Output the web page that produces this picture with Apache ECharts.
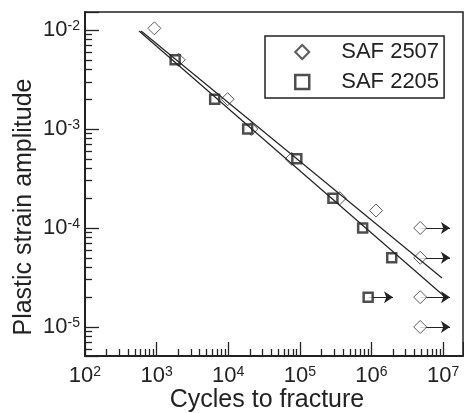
<!DOCTYPE html>
<html>
<head>
<meta charset="utf-8">
<script src="https://cdn.jsdelivr.net/npm/echarts@6/dist/echarts.min.js"></script>
<style>
html, body { margin: 0; padding: 0; background: #fff; }
#main { width: 464px; height: 413px; }
</style>
</head>
<body>
<div id="main"></div>
<script>
// SAF 2507 (diamonds): cycles to fracture / plastic strain amplitude
var n2507 = [930, 2030, 9800, 21000, 77000, 362000, 1160000];
var e2507 = [0.0104, 0.005, 0.002, 0.001, 0.0005, 0.0002, 0.00015];
// SAF 2507 run-outs (no fracture), arrow tips
var n2507Run = [4800000, 4800000, 4800000, 4800000];
var e2507Run = [0.0001, 0.00005, 0.00002, 0.00001];
var n2507Tip = [12500000, 12500000, 12500000, 12500000];

// SAF 2205 (squares)
var n2205 = [1815, 6470, 18700, 90800, 290000, 754000, 1920000];
var e2205 = [0.005, 0.002, 0.001, 0.0005, 0.0002, 0.0001, 0.00005];
var n2205Run = [900000];
var e2205Run = [0.00002];
var n2205Tip = [2000000];

// fitted lines (end points)
var fit2507N = [607, 9680000];
var fit2507E = [0.00977, 0.0000313];
var fit2205N = [569, 10700000];
var fit2205E = [0.00977, 0.0000201];

// axis ranges
var xRange = [100, 19000000];
var yRange = [0.00000509, 0.0152];

function pts(ns, es) {
    return ns.map(function (n, i) { return [n, es[i]]; });
}
function arrows(ns, es, tips) {
    return ns.map(function (n, i) {
        return { coords: [[n, es[i]], [tips[i], es[i]]] };
    });
}

var ink = '#222';
var font = 'Liberation Sans';
var powRich = {
    b: { fontSize: 22, fontFamily: font, color: ink, lineHeight: 22 },
    s: { fontSize: 14, fontFamily: font, color: ink, lineHeight: 14, verticalAlign: 'top' }
};
function powLabel(v) {
    return '{b|10}{s|' + Math.round(Math.log10(v)) + '}';
}

function logAxis(range, extra) {
    var a = {
        type: 'log',
        logBase: 10,
        min: range[0],
        max: range[1],
        splitLine: { show: false },
        axisLine: { show: true, lineStyle: { color: ink, width: 2 } },
        axisTick: { show: true, inside: true, length: 14, lineStyle: { color: ink, width: 1.3 } },
        minorTick: { show: true, splitNumber: 9, length: 7, lineStyle: { color: ink, width: 1.3 } },
        nameMoveOverlap: false
    };
    for (var k in extra) a[k] = extra[k];
    return a;
}

var option = {
    animation: false,
    backgroundColor: '#fff',
    textStyle: { fontFamily: font, color: ink },
    grid: {
        left: 85, right: 1, top: 12, bottom: 57,
        outerBoundsMode: 'none', containLabel: false,
        show: true, borderColor: ink, borderWidth: 1.5
    },
    legend: {
        orient: 'vertical',
        left: 265,
        top: 36,
        padding: [5, 5, 5, 29],
        itemGap: 8,
        itemWidth: 14,
        itemHeight: 14,
        borderColor: ink,
        borderWidth: 1.5,
        textStyle: { fontSize: 22, fontFamily: font, color: ink, lineHeight: 22, padding: [0, 0, 0, 27] },
        data: [
            { name: 'SAF 2507' },
            { name: 'SAF 2205', itemStyle: { borderWidth: 2.5 } }
        ]
    },
    xAxis: logAxis(xRange, {
        position: 'bottom',
        axisLabel: { show: true, margin: 9, showMinLabel: true, showMaxLabel: false, formatter: powLabel, rich: powRich },
        name: 'Cycles to fracture',
        nameLocation: 'middle',
        nameGap: 32,
        nameTextStyle: { fontSize: 25, fontFamily: font, color: ink, padding: [0, 14, 0, 0] }
    }),
    yAxis: logAxis(yRange, {
        position: 'left',
        axisLabel: { show: true, margin: 5, showMinLabel: false, showMaxLabel: false, formatter: powLabel, rich: powRich },
        name: 'Plastic strain amplitude',
        nameLocation: 'middle',
        nameGap: 48,
        nameTextStyle: { fontSize: 25, fontFamily: font, color: ink, padding: [0, 46, 0, 0] }
    }),
    series: [
        {
            name: 'run-out',
            type: 'lines',
            coordinateSystem: 'cartesian2d',
            symbol: ['none', 'arrow'],
            symbolSize: [0, 9],
            lineStyle: { color: ink, width: 1.2, opacity: 1 },
            z: 1,
            data: arrows(n2507Run, e2507Run, n2507Tip).concat(arrows(n2205Run, e2205Run, n2205Tip))
        },
        {
            name: 'SAF 2507',
            type: 'scatter',
            symbol: 'diamond',
            symbolSize: 13,
            itemStyle: { color: '#fff', borderColor: '#333', borderWidth: 1 },
            z: 2,
            data: pts(n2507, e2507).concat(pts(n2507Run, e2507Run))
        },
        {
            name: 'SAF 2205',
            type: 'scatter',
            symbol: 'rect',
            symbolSize: 9,
            itemStyle: { color: '#fff', borderColor: ink, borderWidth: 2.5 },
            z: 3,
            data: pts(n2205, e2205).concat(pts(n2205Run, e2205Run))
        },
        {
            name: 'fit 2507',
            type: 'line',
            showSymbol: false,
            lineStyle: { color: ink, width: 1.2 },
            z: 4,
            data: pts(fit2507N, fit2507E)
        },
        {
            name: 'fit 2205',
            type: 'line',
            showSymbol: false,
            lineStyle: { color: ink, width: 1.2 },
            z: 4,
            data: pts(fit2205N, fit2205E)
        }
    ]
};

var myChart = echarts.init(document.getElementById('main'));
myChart.setOption(option);
</script>
</body>
</html>
